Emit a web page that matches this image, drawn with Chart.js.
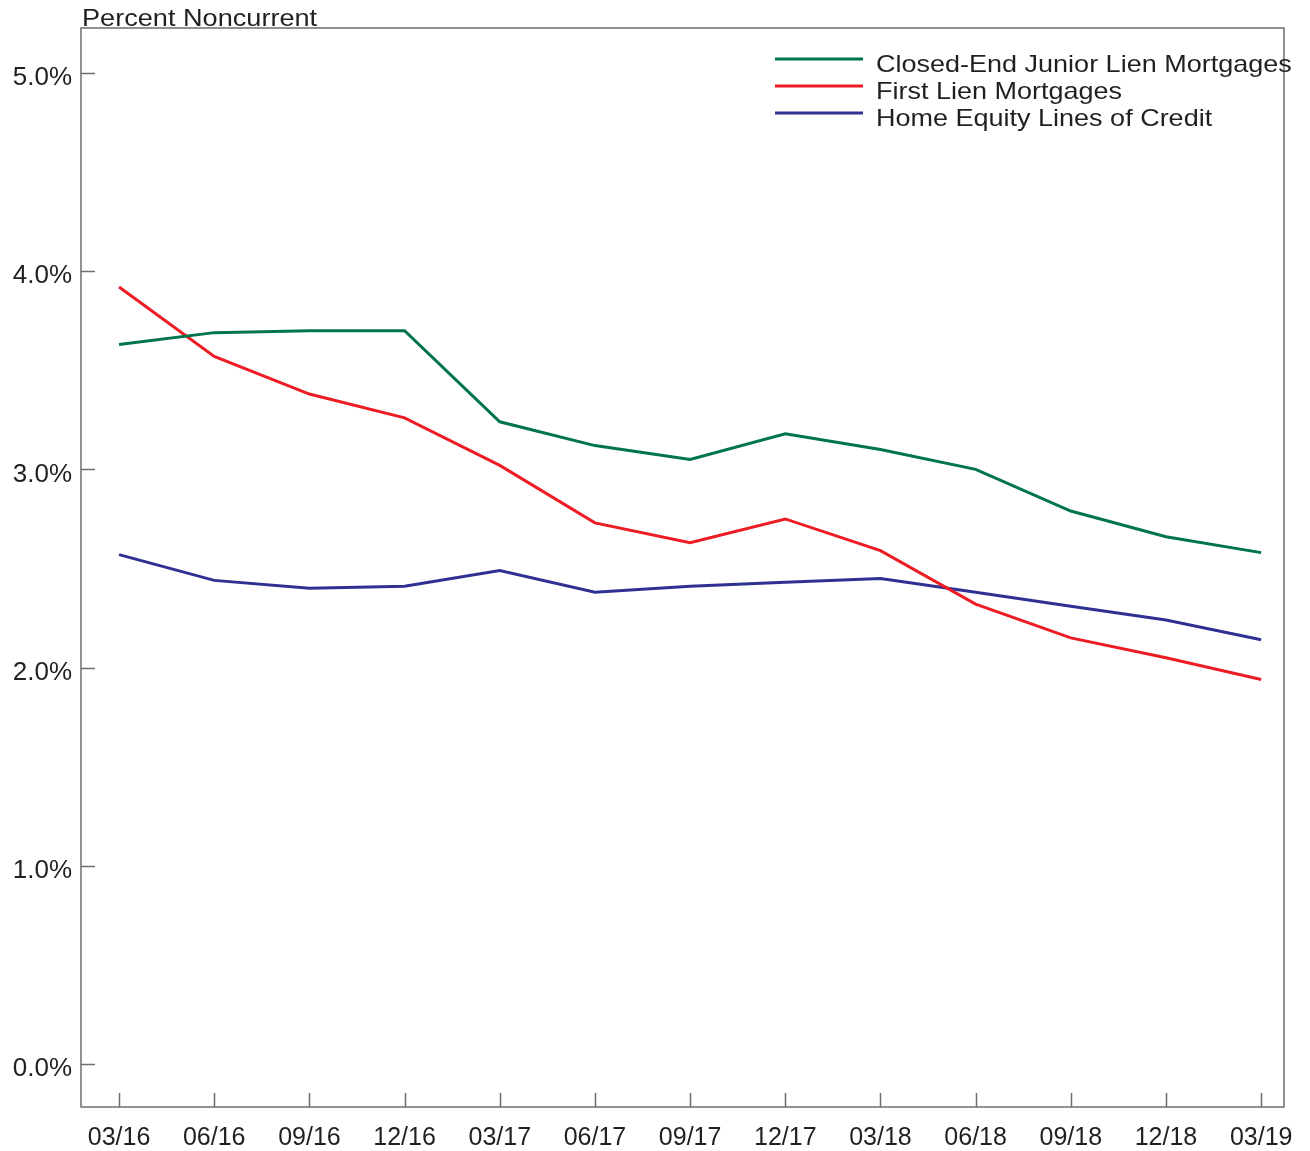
<!DOCTYPE html>
<html>
<head>
<meta charset="utf-8">
<script src="https://cdn.jsdelivr.net/npm/chart.js@4/dist/chart.umd.min.js"></script>
<style>
    html, body { margin: 0; padding: 0; background: #ffffff; }
    #wrap { width: 1310px; height: 1151px; }
</style>
</head>
<body>
<div id="wrap"><canvas id="grafico"></canvas></div>
<script>
var etiquetas = ['03/16', '06/16', '09/16', '12/16', '03/17', '06/17', '09/17', '12/17', '03/18', '06/18', '09/18', '12/18', '03/19'];
var junior_lien = [3.63, 3.69, 3.70, 3.70, 3.24, 3.12, 3.05, 3.18, 3.10, 3.00, 2.79, 2.66, 2.58];
var first_lien = [3.92, 3.57, 3.38, 3.26, 3.02, 2.73, 2.63, 2.75, 2.59, 2.32, 2.15, 2.05, 1.94];
var heloc = [2.57, 2.44, 2.40, 2.41, 2.49, 2.38, 2.41, 2.43, 2.45, 2.38, 2.31, 2.24, 2.14];
var y_ticks = [0, 1, 2, 3, 4, 5];

var color_texto = '#231f20';
var color_borde = '#6d6e71';
var fuente = 'Liberation Sans, Arial, sans-serif';

to_points = function (serie) {
    var puntos = [];
    for (var i = 0; i < serie.length; i++) {
        puntos.push({ x: i, y: serie[i] });
    }
    return puntos;
}

var marco_plugin = {
    id: 'marco',
    afterDraw: function (chart) {
        var ctx = chart.ctx;
        var area = chart.chartArea;
        var sx = chart.scales.x;
        var sy = chart.scales.y;
        ctx.save();
        ctx.strokeStyle = color_borde;
        ctx.lineWidth = 1.5;
        ctx.strokeRect(area.left, area.top, area.right - area.left, area.bottom - area.top);
        // ticks hacia dentro
        ctx.beginPath();
        for (var i = 0; i < y_ticks.length; i++) {
            var py = Math.round(sy.getPixelForValue(y_ticks[i])) + 0.5;
            ctx.moveTo(area.left, py);
            ctx.lineTo(area.left + 14, py);
        }
        for (var j = 0; j < etiquetas.length; j++) {
            var px = Math.round(sx.getPixelForValue(j)) + 0.5;
            ctx.moveTo(px, area.bottom);
            ctx.lineTo(px, area.bottom - 14);
        }
        ctx.stroke();

        // titulo del eje
        ctx.fillStyle = color_texto;
        ctx.font = '24px ' + fuente;
        ctx.textAlign = 'left';
        ctx.textBaseline = 'alphabetic';
        ctx.save();
        ctx.translate(82, 26);
        ctx.scale(1.13, 1);
        ctx.fillText('Percent Noncurrent', 0, 0);
        ctx.restore();

        // leyenda
        var datasets = chart.data.datasets;
        for (var k = 0; k < datasets.length; k++) {
            var ly = 59 + k * 27;
            ctx.strokeStyle = datasets[k].borderColor;
            ctx.lineWidth = 3;
            ctx.beginPath();
            ctx.moveTo(775, ly);
            ctx.lineTo(863, ly);
            ctx.stroke();
            ctx.save();
            ctx.translate(876, ly + 13);
            ctx.scale(1.125, 1);
            ctx.fillStyle = color_texto;
            ctx.fillText(datasets[k].label, 0, 0);
            ctx.restore();
        }
        ctx.restore();
    }
};

function create_chart() {
    var ctx = document.getElementById('grafico');
    return new Chart(ctx, {
        type: 'line',
        data: {
            datasets: [
                {
                    label: 'Closed-End Junior Lien Mortgages',
                    data: to_points(junior_lien),
                    borderColor: '#00744b',
                    borderWidth: 3,
                    pointRadius: 0,
                    tension: 0
                },
                {
                    label: 'First Lien Mortgages',
                    data: to_points(first_lien),
                    borderColor: '#ed1c24',
                    borderWidth: 3,
                    pointRadius: 0,
                    tension: 0
                },
                {
                    label: 'Home Equity Lines of Credit',
                    data: to_points(heloc),
                    borderColor: '#2e3192',
                    borderWidth: 3,
                    pointRadius: 0,
                    tension: 0
                }
            ]
        },
        options: {
            responsive: true,
            maintainAspectRatio: false,
            animation: false,
            layout: {
                padding: { left: 0, top: 28, right: 26, bottom: 0 }
            },
            scales: {
                x: {
                    type: 'linear',
                    min: -0.4,
                    max: 12.24,
                    afterBuildTicks: function (scale) {
                        scale.ticks = etiquetas.map(function (e, i) { return { value: i }; });
                    },
                    afterFit: function (scale) {
                        scale.height = 44;
                    },
                    grid: { display: false, drawTicks: false },
                    border: { display: false },
                    ticks: {
                        padding: 16,
                        maxRotation: 0,
                        autoSkip: false,
                        color: color_texto,
                        font: { family: fuente, size: 25 },
                        callback: function (value) {
                            return etiquetas[value];
                        }
                    }
                },
                y: {
                    type: 'linear',
                    min: -0.217,
                    max: 5.227,
                    afterBuildTicks: function (scale) {
                        scale.ticks = y_ticks.map(function (v) { return { value: v }; });
                    },
                    afterFit: function (scale) {
                        scale.width = 81;
                    },
                    grid: { display: false, drawTicks: false },
                    border: { display: false },
                    ticks: {
                        padding: 9,
                        labelOffset: 5,
                        color: color_texto,
                        font: { family: fuente, size: 26 },
                        callback: function (value) {
                            return value.toFixed(1) + '%';
                        }
                    }
                }
            },
            plugins: {
                legend: { display: false },
                tooltip: { enabled: false }
            }
        },
        plugins: [marco_plugin]
    });
}

var chart = create_chart();
</script>
</body>
</html>
